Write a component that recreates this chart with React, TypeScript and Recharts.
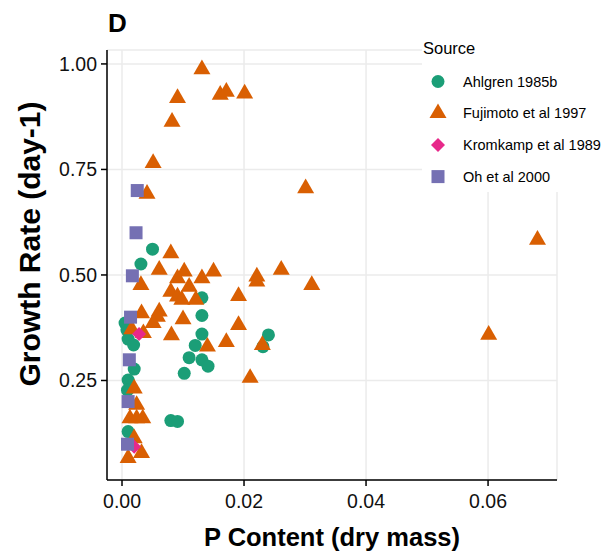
import React from 'react';
import { ScatterChart, Scatter, XAxis, YAxis, CartesianGrid } from 'recharts';

const FONT = '"Liberation Sans", Arial, sans-serif';

// Ahlgren 1985b
const ahlgrenP = [0.0050, 0.0031, 0.0131, 0.0131, 0.0131, 0.0240, 0.0231, 0.0120, 0.0110, 0.0131, 0.0141, 0.0102, 0.0080, 0.0091, 0.0005, 0.0008, 0.0010, 0.0019, 0.0020, 0.0010, 0.0009, 0.0010];
const ahlgrenRate = [0.561, 0.526, 0.446, 0.404, 0.360, 0.358, 0.330, 0.333, 0.304, 0.299, 0.284, 0.267, 0.155, 0.153, 0.386, 0.370, 0.348, 0.334, 0.277, 0.251, 0.227, 0.129];

// Fujimoto et al 1997
const fujimotoP = [0.0131, 0.0091, 0.0161, 0.0171, 0.0201, 0.0082, 0.0051, 0.0041, 0.0301, 0.0681, 0.0601, 0.0080, 0.0061, 0.0102, 0.0150, 0.0131, 0.0091, 0.0221, 0.0221, 0.0261, 0.0311, 0.0031, 0.0110, 0.0080, 0.0091, 0.0121, 0.0098, 0.0191, 0.0032, 0.0061, 0.0058, 0.0051, 0.0100, 0.0191, 0.0081, 0.0171, 0.0140, 0.0230, 0.0210, 0.0016, 0.0035, 0.0020, 0.0024, 0.0013, 0.0024, 0.0034, 0.0020, 0.0032, 0.0010];
const fujimotoRate = [0.987, 0.919, 0.927, 0.934, 0.930, 0.863, 0.765, 0.692, 0.705, 0.583, 0.358, 0.551, 0.512, 0.508, 0.508, 0.492, 0.492, 0.496, 0.484, 0.512, 0.476, 0.476, 0.472, 0.460, 0.449, 0.441, 0.441, 0.450, 0.409, 0.413, 0.401, 0.386, 0.395, 0.381, 0.357, 0.341, 0.330, 0.334, 0.256, 0.371, 0.362, 0.231, 0.192, 0.160, 0.160, 0.160, 0.113, 0.078, 0.066];

// Kromkamp et al 1989
const kromkampP = [0.0028, 0.0020];
const kromkampRate = [0.360, 0.093];

// Oh et al 2000
const ohP = [0.0025, 0.0023, 0.0017, 0.0014, 0.0012, 0.0010, 0.0009];
const ohRate = [0.700, 0.600, 0.498, 0.400, 0.299, 0.200, 0.099];

const xTicks = [0, 0.02, 0.04, 0.06];
const yTicks = [0.25, 0.5, 0.75, 1.0];

const sourceNames = ['Ahlgren 1985b', 'Fujimoto et al 1997', 'Kromkamp et al 1989', 'Oh et al 2000'];
const colors = ['#1b9e77', '#d95f02', '#e7298a', '#7570b3'];

const toRows = (xs: number[], ys: number[]) => xs.map((x, i) => ({ p: x, rate: ys[i] }));

const ahlgrenData = toRows(ahlgrenP, ahlgrenRate);
const fujimotoData = toRows(fujimotoP, fujimotoRate);
const kromkampData = toRows(kromkampP, kromkampRate);
const ohData = toRows(ohP, ohRate);

const drawCircle = (cx: number, cy: number, fill: string) => <circle cx={cx} cy={cy} r={6.5} fill={fill} />;
const drawTriangle = (cx: number, cy: number, fill: string) => {
  const s = 17;
  const h = (s * Math.sqrt(3)) / 2;
  return (
    <polygon
      points={`${cx},${cy - (2 * h) / 3} ${cx - s / 2},${cy + h / 3} ${cx + s / 2},${cy + h / 3}`}
      fill={fill}
    />
  );
};
const drawDiamond = (cx: number, cy: number, fill: string) => {
  const d = 7;
  return <polygon points={`${cx},${cy - d} ${cx + d},${cy} ${cx},${cy + d} ${cx - d},${cy}`} fill={fill} />;
};
const drawSquare = (cx: number, cy: number, fill: string) => (
  <rect x={cx - 6.5} y={cy - 6.5} width={13} height={13} fill={fill} />
);

const drawers = [drawCircle, drawTriangle, drawDiamond, drawSquare];

const makeShape = (idx: number) => (props: any) => {
  if (props.cx == null || props.cy == null) return <g />;
  return drawers[idx](props.cx, props.cy, colors[idx]);
};

const tickStyle = { fontFamily: FONT, fontSize: 19.5, fill: '#111' };

export default function App() {
  return (
    <div style={{ position: 'absolute', left: 0, top: 0, width: 613, height: 556, background: '#fff' }}>
      <ScatterChart width={613} height={556} margin={{ top: 50, right: 56, left: 0, bottom: 0 }}>
        <CartesianGrid stroke="#ebebeb" strokeWidth={1.5} />
        <XAxis
          type="number"
          dataKey="p"
          domain={[-0.00246, 0.0713]}
          ticks={xTicks}
          allowDataOverflow
          height={76}
          tickFormatter={(v: number) => v.toFixed(2)}
          tick={tickStyle}
          tickSize={6}
          tickMargin={8}
          axisLine={{ stroke: '#000', strokeWidth: 1.5 }}
          tickLine={{ stroke: '#000', strokeWidth: 1.5 }}
          label={{
            content: () => (
              <text x={332} y={546} textAnchor="middle" fontFamily={FONT} fontWeight="bold" fontSize={25.5} fill="#000">
                P Content (dry mass)
              </text>
            ),
          }}
        />
        <YAxis
          type="number"
          dataKey="rate"
          domain={[0.0142, 1.033]}
          ticks={yTicks}
          allowDataOverflow
          width={107}
          tickFormatter={(v: number) => v.toFixed(2)}
          tick={tickStyle}
          tickSize={6}
          tickMargin={4}
          axisLine={{ stroke: '#000', strokeWidth: 1.5 }}
          tickLine={{ stroke: '#000', strokeWidth: 1.5 }}
          label={{
            content: () => (
              <text
                x={29}
                y={244}
                transform="rotate(-90 29 244)"
                textAnchor="middle"
                dominantBaseline="central"
                fontFamily={FONT}
                fontWeight="bold"
                fontSize={30}
                fill="#000"
              >
                Growth Rate (day-1)
              </text>
            ),
          }}
        />
        <Scatter name={sourceNames[0]} data={ahlgrenData} shape={makeShape(0)} isAnimationActive={false} />
        <Scatter name={sourceNames[1]} data={fujimotoData} shape={makeShape(1)} isAnimationActive={false} />
        <Scatter name={sourceNames[2]} data={kromkampData} shape={makeShape(2)} isAnimationActive={false} />
        <Scatter name={sourceNames[3]} data={ohData} shape={makeShape(3)} isAnimationActive={false} />
      </ScatterChart>
      <div
        style={{
          position: 'absolute',
          left: 108,
          top: 8,
          fontFamily: FONT,
          fontWeight: 'bold',
          fontSize: 26,
          lineHeight: '30px',
          color: '#000',
        }}
      >
        D
      </div>
      <svg width={191} height={162} style={{ position: 'absolute', left: 422, top: 30 }}>
        <rect x={0} y={0} width={191} height={162} fill="#fff" />
        <text x={1} y={18} dominantBaseline="central" fontFamily={FONT} fontSize={16.5} fill="#000">
          Source
        </text>
        {sourceNames.map((name, i) => {
          const cy = 51.5 + i * 31.7;
          return (
            <g key={name}>
              {drawers[i](16, cy, colors[i])}
              <text x={41} y={cy} dominantBaseline="central" fontFamily={FONT} fontSize={14.5} fill="#000">
                {name}
              </text>
            </g>
          );
        })}
      </svg>
    </div>
  );
}
